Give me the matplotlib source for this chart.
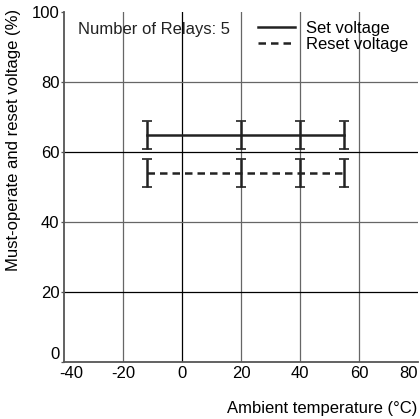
import matplotlib
matplotlib.use("Agg")
import matplotlib.pyplot as plt
from matplotlib.transforms import ScaledTranslation

plt.rcParams['font.family'] = ['Liberation Sans', 'DejaVu Sans']
plt.rcParams['axes.unicode_minus'] = False

# ambient temperature (degC) and must-operate / reset voltage (%)
temps = [-12, 20, 40, 55]
set_voltage = [65, 65, 65, 65]
set_err = [4, 4, 4, 4]
reset_voltage = [54, 54, 54, 54]
reset_err = [4, 4, 4, 4]

xticks = [-40, -20, 0, 20, 40, 60, 80]
yticks = [0, 20, 40, 60, 80, 100]

fig = plt.figure(figsize=(4.20, 4.19), dpi=100)
ax = fig.add_axes([0.153, 0.136, 0.842, 0.835])

ax.set_xlim(-40, 80)
ax.set_ylim(0, 100)
ax.set_xticks(xticks)
ax.set_yticks(yticks)
ax.tick_params(axis='x', length=0, labelsize=12, pad=3)
ax.tick_params(axis='y', length=2.5, width=0.9, color='#555555', labelsize=12, pad=1)

for x in xticks[1:-1]:
    ax.axvline(x, color='black' if x == 0 else '#666666', lw=0.9, zorder=1)
for y in yticks[1:-1]:
    ax.axhline(y, color='black' if y in (20, 60) else '#666666', lw=0.9, zorder=1)

ax.errorbar(temps, set_voltage, yerr=set_err, color='#222222', lw=1.8,
            capsize=3.5, elinewidth=1.8, capthick=1.2, zorder=3)
ax.errorbar(temps, reset_voltage, yerr=reset_err, color='#222222', lw=1.8, ls=(0, (3, 2)),
            capsize=3.5, elinewidth=1.8, capthick=1.2, zorder=3)

ax.text(-35.5, 95, 'Number of Relays: 5', fontsize=12, va='center', color='#222222')

handles = [plt.Line2D([], [], color='#222222', lw=1.8),
           plt.Line2D([], [], color='#222222', lw=1.8, ls=(0, (3, 2)))]
ax.legend(handles, ['Set voltage', 'Reset voltage'], loc='upper left',
          bbox_to_anchor=(0.51, 1.012), frameon=False, fontsize=12,
          handlelength=2.2, handletextpad=0.7, labelspacing=0.05, borderpad=0.3)

ax.set_ylabel('Must-operate and reset voltage (%)', fontsize=12)
ax.yaxis.set_label_coords(-0.121, 0.634)
fig.text(0.993, 0.025, 'Ambient temperature (\u00b0C)', fontsize=12, ha='right', va='center')

for s in ['top', 'right']:
    ax.spines[s].set_visible(False)
for s in ['left', 'bottom']:
    ax.spines[s].set_linewidth(1.3)
    ax.spines[s].set_color('#555555')

ax.get_yticklabels()[0].set_verticalalignment('bottom')
first = ax.get_xticklabels()[0]
first.set_transform(first.get_transform() + ScaledTranslation(5 / 72, 0, fig.dpi_scale_trans))
ax.get_xticklabels()[-1].set_horizontalalignment('right')

fig.savefig('out.png', dpi=100)
